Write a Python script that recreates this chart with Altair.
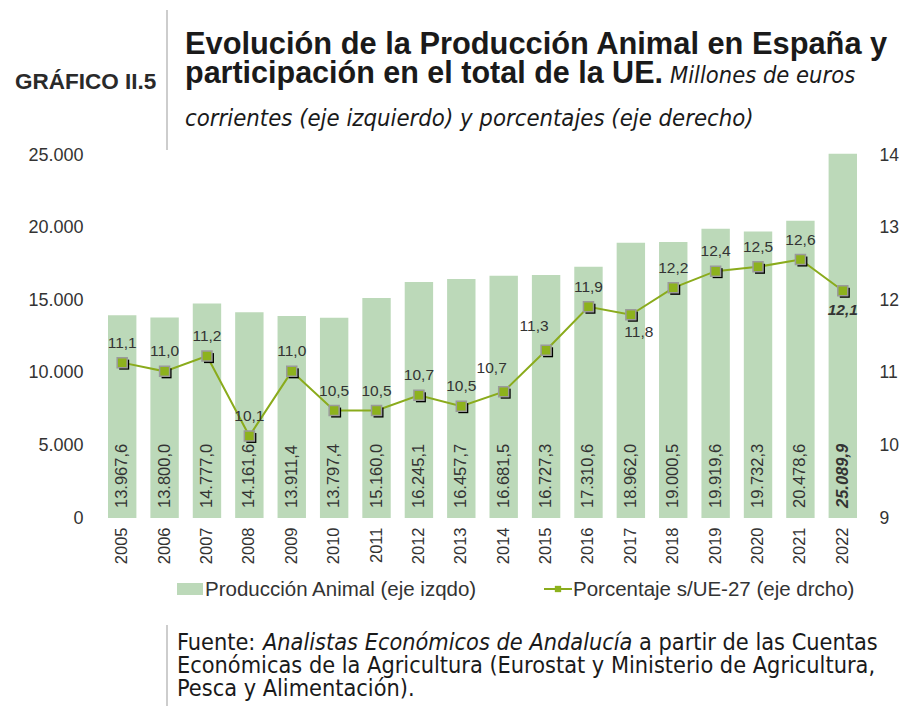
import altair as alt
import pandas as pd

years = [str(y) for y in range(2005, 2023)]
produccion = [13967.6, 13800.0, 14777.0, 14161.6, 13911.4, 13797.4, 15160.0, 16245.1, 16457.7,
              16681.5, 16727.3, 17310.6, 18962.0, 19000.5, 19919.6, 19732.3, 20478.6, 25089.9]
porcentaje = [11.14, 11.02, 11.23, 10.13, 11.02, 10.48, 10.48, 10.69, 10.54,
              10.74, 11.31, 11.91, 11.80, 12.17, 12.40, 12.46, 12.56, 12.13]
left_ticks = [0, 5000, 10000, 15000, 20000, 25000]
right_ticks = [9, 10, 11, 12, 13, 14]
labels_below = ["2017", "2022"]
labels_left = ["2014", "2015"]
highlight_year = "2022"


def es_num(v):
    s = f"{v:,.1f}"
    return s.replace(",", "X").replace(".", ",").replace("X", ".")


df = pd.DataFrame({
    "year": years,
    "prod": produccion,
    "pct": porcentaje,
    "zero": [0.0] * len(years),
    "prod_lbl": [es_num(v) for v in produccion],
    "pct_lbl": [f"{v:.1f}".replace(".", ",") for v in porcentaje],
})

W, H = 763, 363
BAR = "#bcd9b9"
LINE = "#8aab1c"
TXT = "#333333"
SANS = "Liberation Sans, Arial, sans-serif"
COND = "DejaVu Sans Condensed, DejaVu Sans, sans-serif"

x_enc = alt.X("year:N", title=None, sort=years,
              scale=alt.Scale(paddingInner=0.33, paddingOuter=0.165),
              axis=alt.Axis(labelAngle=-90, labelFont=SANS, labelFontSize=16.5, labelColor=TXT,
                            labelPadding=9, ticks=False, domain=False, grid=False))

left_axis = alt.Axis(values=left_ticks, labelExpr="replace(format(datum.value, ',d'), ',', '.')",
                     labelFont=SANS, labelFontSize=18, labelColor=TXT, labelPadding=18,
                     ticks=False, domain=False, grid=False)
left_scale = alt.Scale(domain=[0, 25000], nice=False)
y_left = alt.Y("prod:Q", title=None, scale=left_scale, axis=left_axis)
y_zero = alt.Y("zero:Q", title=None, scale=left_scale, axis=left_axis)

y_right = alt.Y("pct:Q", title=None,
                scale=alt.Scale(domain=[9, 14], nice=False),
                axis=alt.Axis(orient="right", values=right_ticks, format="d",
                              labelFont=SANS, labelFontSize=17.5, labelColor=TXT, labelPadding=15,
                              ticks=False, domain=False, grid=False))

base = alt.Chart(df)

bars = base.mark_bar(color=BAR).encode(x=x_enc, y=y_left)
bar_lbl = base.transform_filter(alt.datum.year != highlight_year).mark_text(
    angle=270, align="left", baseline="middle", dx=10, font=SANS, fontSize=16.5, color=TXT
).encode(x=x_enc, y=y_zero, text="prod_lbl:N")
bar_lbl_hl = base.transform_filter(alt.datum.year == highlight_year).mark_text(
    angle=270, align="left", baseline="middle", dx=10, font=SANS, fontSize=16.5, color=TXT,
    fontWeight="bold", fontStyle="italic"
).encode(x=x_enc, y=y_zero, text="prod_lbl:N")

left = alt.layer(bars, bar_lbl, bar_lbl_hl)

line = base.mark_line(color=LINE, strokeWidth=2).encode(x=x_enc, y=y_right)
shadow = base.mark_square(color="black", size=100, opacity=1, xOffset=2, yOffset=2).encode(x=x_enc, y=y_right)
pts = base.mark_square(fill="#8db21d", stroke="#9a9a9a", strokeWidth=1.5, size=100, opacity=1).encode(x=x_enc, y=y_right)

special = alt.FieldOneOfPredicate(field="year", oneOf=labels_below + labels_left)
lbl_above = base.transform_filter(~special).mark_text(
    dy=-20, font=SANS, fontSize=15.5, color=TXT).encode(x=x_enc, y=y_right, text="pct_lbl:N")
lbl_left = base.transform_filter(alt.FieldOneOfPredicate(field="year", oneOf=labels_left)).mark_text(
    dy=-24, dx=-12, font=SANS, fontSize=15.5, color=TXT).encode(x=x_enc, y=y_right, text="pct_lbl:N")
lbl_below = base.transform_filter(
    alt.FieldOneOfPredicate(field="year", oneOf=[y for y in labels_below if y != highlight_year])).mark_text(
    dy=17, dx=8, font=SANS, fontSize=15.5, color=TXT).encode(x=x_enc, y=y_right, text="pct_lbl:N")
lbl_hl = base.transform_filter(alt.datum.year == highlight_year).mark_text(
    dy=19, font=SANS, fontSize=15.5, color=TXT, fontWeight="bold", fontStyle="italic").encode(
    x=x_enc, y=y_right, text="pct_lbl:N")

right = alt.layer(line, shadow, pts, lbl_above, lbl_left, lbl_below, lbl_hl)

one = alt.Data(values=[{"k": 1}])


def txt(s, x, y, size, font=SANS, weight="normal", style="normal", color="#1a1a1a"):
    return alt.Chart(one).mark_text(text=s, align="left", baseline="alphabetic", font=font,
                                    fontSize=size, fontWeight=weight, fontStyle=style,
                                    color=color).encode(x=alt.value(x), y=alt.value(y))


def vrule(x, y1, y2, color="#bdbdbd", width=1.5):
    return alt.Chart(one).mark_rule(color=color, strokeWidth=width).encode(
        x=alt.value(x), y=alt.value(y1), y2=alt.value(y2))


annots = [
    txt("GRÁFICO II.5", -86, -66, 22.5, weight="bold", color="#2a2a2a"),
    vrule(66, -145, -5),
    txt("Evolución de la Producción Animal en España y", 84, -101, 30.8, weight="bold"),
    txt("participación en el total de la UE.", 84, -72, 30.5, weight="bold"),
    txt("Millones de euros", 569, -72, 23.5, font=COND, style="italic"),
    txt("corrientes (eje izquierdo) y porcentajes (eje derecho)", 84, -29, 23.7, font=COND, style="italic"),
    # legend
    alt.Chart(one).mark_rect(color=BAR).encode(x=alt.value(76), x2=alt.value(102),
                                               y=alt.value(428), y2=alt.value(440)),
    txt("Producción Animal (eje izqdo)", 104, 441, 20.5, color=TXT),
    alt.Chart(one).mark_rule(color=LINE, strokeWidth=2).encode(x=alt.value(443), x2=alt.value(471),
                                                               y=alt.value(434)),
    alt.Chart(one).mark_square(fill="#8db21d", size=40, opacity=1).encode(x=alt.value(457), y=alt.value(434)),
    txt("Porcentaje s/UE-27 (eje drcho)", 472, 441, 20.5, color=TXT),
    # source
    vrule(66, 470, 560),
    txt("Fuente:", 76, 495, 23.3, font=COND),
    txt("Analistas Económicos de Andalucía", 162, 495, 23.3, font=COND, style="italic"),
    txt("a partir de las Cuentas", 538, 495, 23.3, font=COND),
    txt("Económicas de la Agricultura (Eurostat y Ministerio de Agricultura,", 76, 518, 23.3, font=COND),
    txt("Pesca y Alimentación).", 76, 541, 23.3, font=COND),
]

chart = alt.layer(left, right, *annots).resolve_scale(y="independent").properties(
    width=W, height=H,
    autosize=alt.AutoSizeParams(type="none"),
    padding={"left": 93, "top": 147, "right": 36, "bottom": 188},
).configure(background="white").configure_view(stroke=None)

chart.save("out.html", embed_options={"renderer": "svg", "actions": False})
